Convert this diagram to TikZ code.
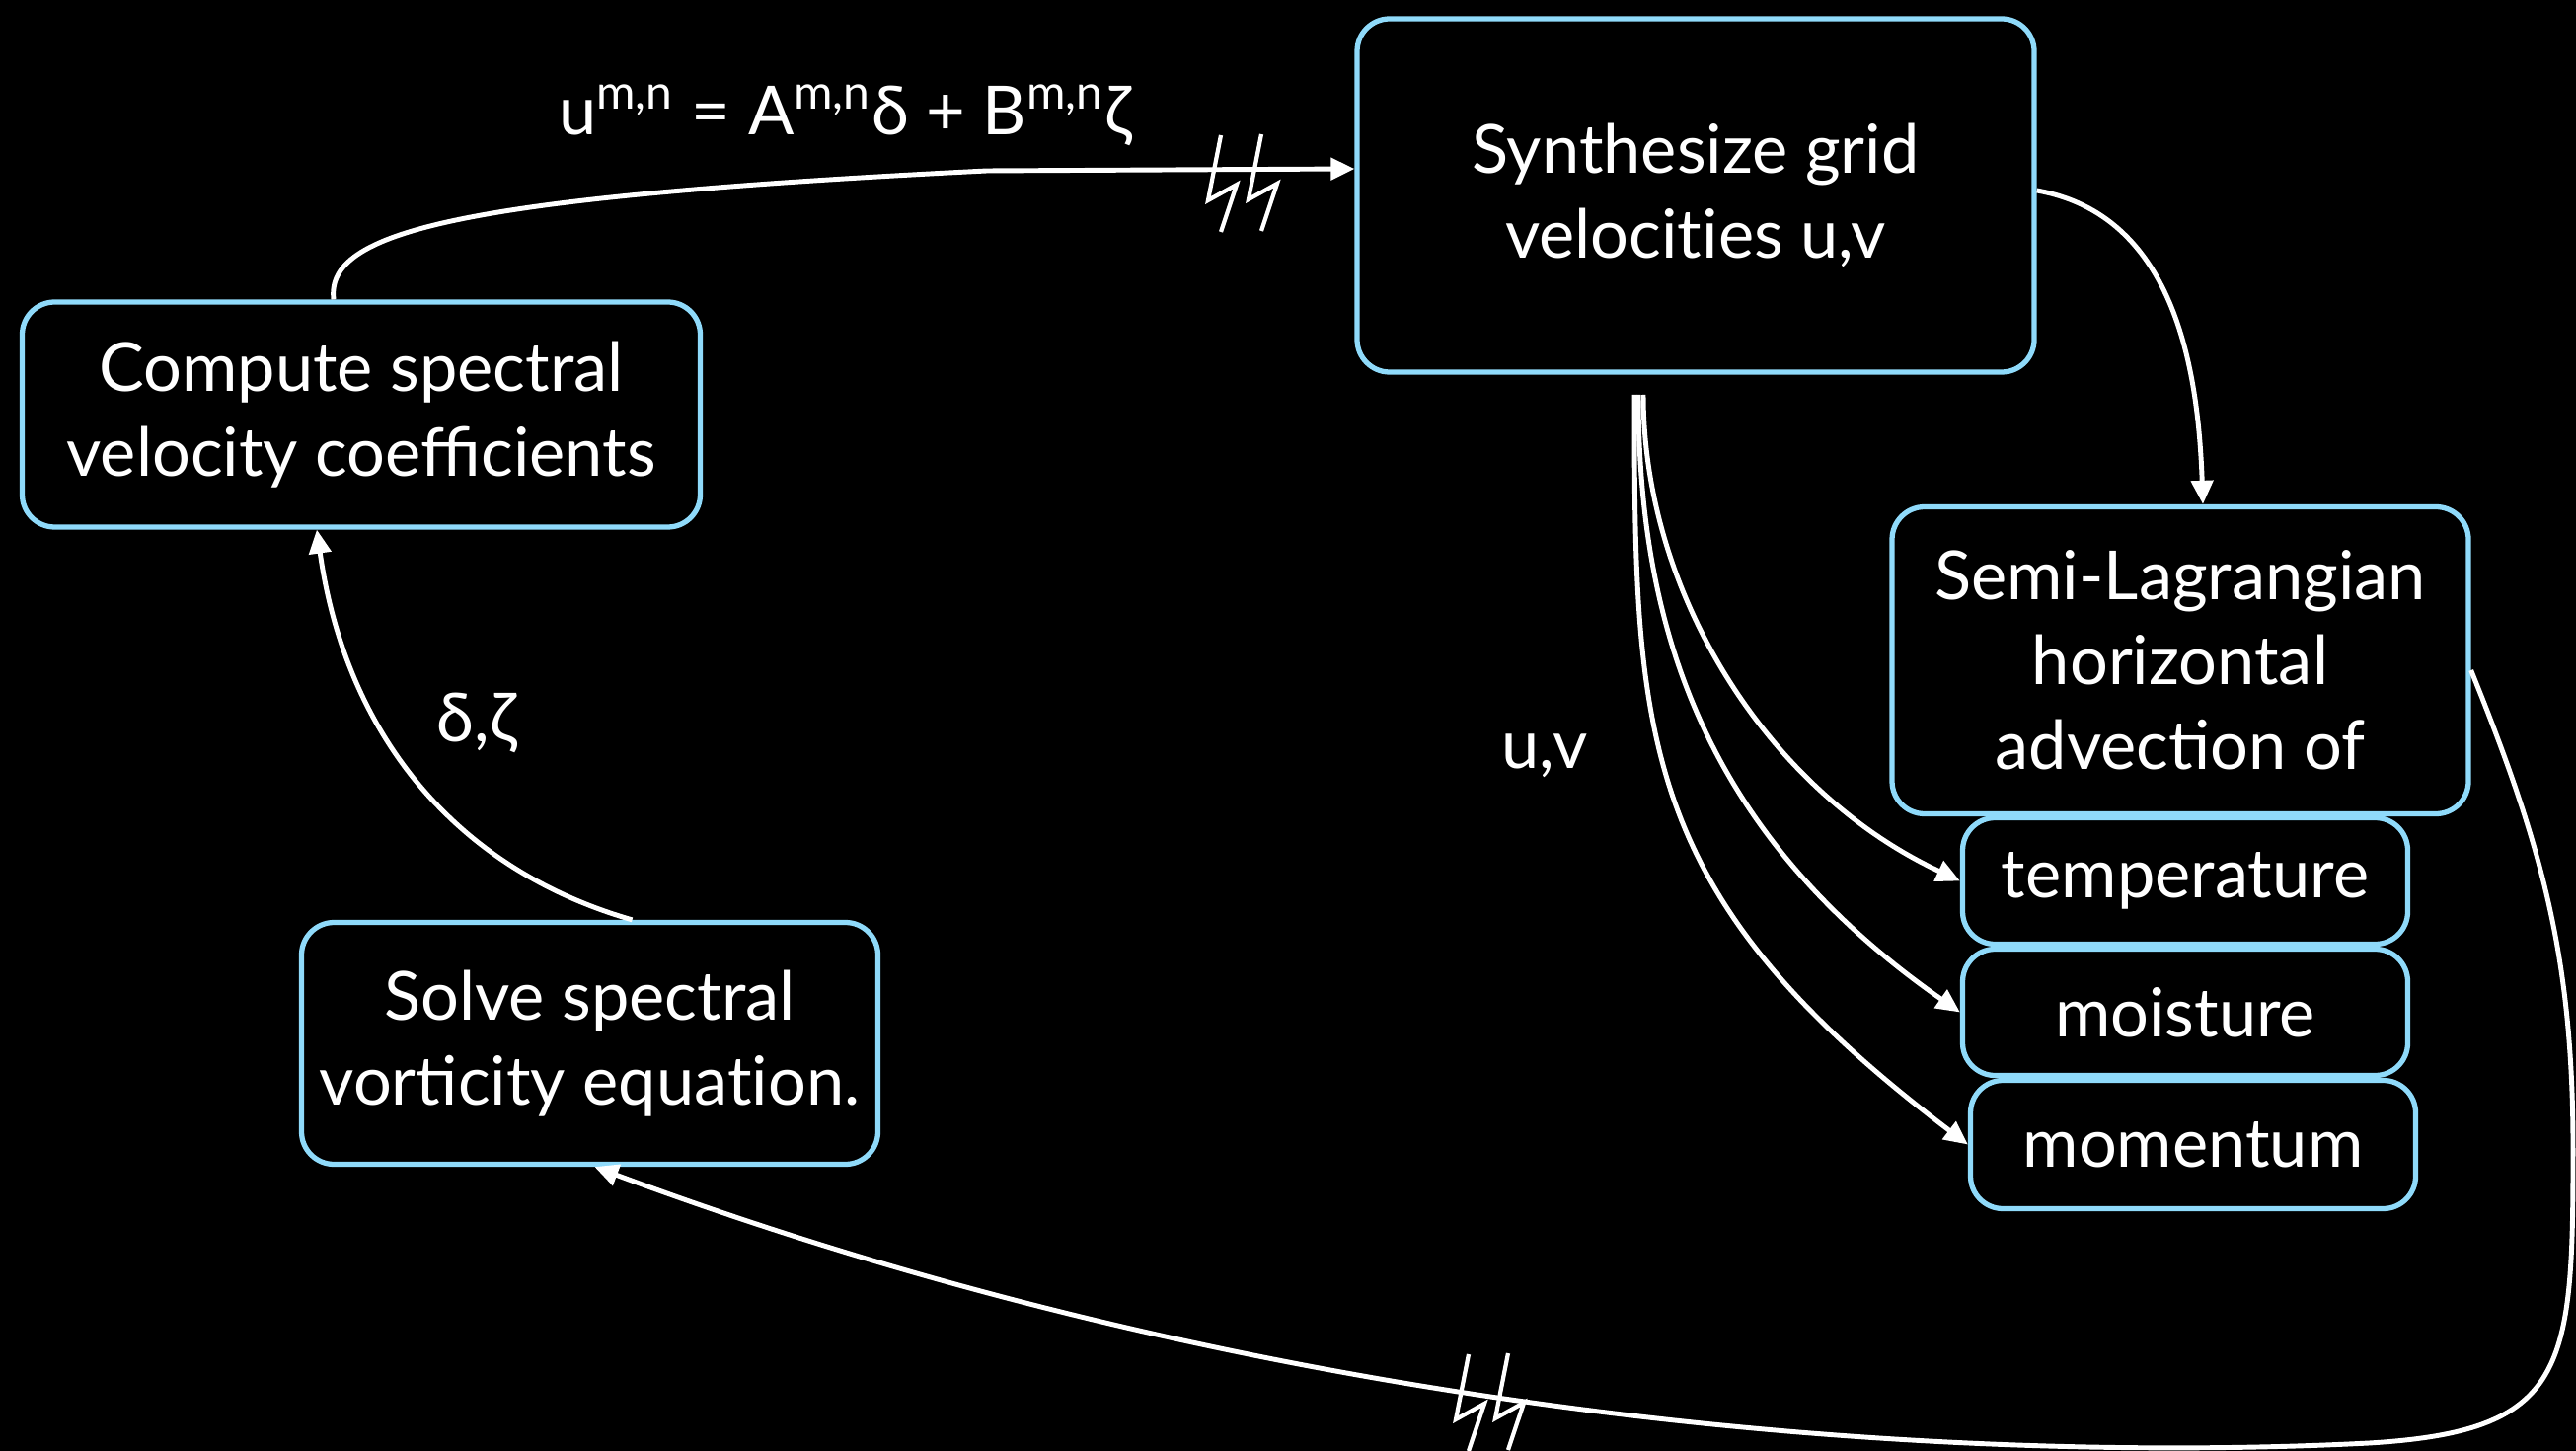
\documentclass[tikz,border=0pt]{standalone}
\usepackage{fontspec}
\setmainfont{Lato}
\usepackage{xcolor}
\usetikzlibrary{arrows.meta,positioning,calc}
\definecolor{boxblue}{RGB}{143,218,250}

\begin{document}
\begin{tikzpicture}[
      stepnode/.style={draw=boxblue,line width=1.5pt,rounded corners=0.33cm,text=white,align=center,inner sep=0pt,font=\fontsize{19.5}{24.5}\selectfont},
      lbl/.style={text=white,inner sep=0pt,font=\fontsize{19.5}{24.5}\selectfont},
      flow/.style={draw=white,line width=1.4pt,-{Triangle[length=0.24cm,width=0.22cm]}},
      brk/.style={draw=white,line width=1.2pt}]
    \useasboundingbox (0,0) rectangle (26.1,-14.7);
    \fill[black] (0,0) rectangle (26.1,-14.7);
    \node[stepnode,minimum width=6.86cm,minimum height=3.58cm] (synth) at (17.18,-1.98) {Synthesize grid\\velocit\kern0pt ies u,v};
    \node[stepnode,minimum width=6.87cm,minimum height=2.28cm] (compute) at (3.66,-4.20) {Compute spectral\\velocity coefficients};
    \node[stepnode,minimum width=5.84cm,minimum height=3.11cm] (semi) at (22.09,-6.69) {Semi-Lagrangian\\horizontal\\advection of};
    \node[stepnode,minimum width=4.51cm,minimum height=1.28cm] (temp) at (22.14,-8.925) {temperature};
    \node[stepnode,minimum width=4.51cm,minimum height=1.28cm] (moist) at (22.14,-10.255) {moisture};
    \node[stepnode,minimum width=4.51cm,minimum height=1.30cm] (moment) at (22.22,-11.595) {momentum};
    \node[stepnode,minimum width=5.84cm,minimum height=2.45cm] (solve) at (5.975,-10.57) {Solve spectral\\vorticity equat\kern0pt ion.};
    \node[lbl] (coeff) at (8.56,-1.17) {u\textsuperscript{m,n} = A\textsuperscript{m,n}δ + B\textsuperscript{m,n}ζ};
    \node[lbl] (dz) at (4.83,-7.32) {δ,ζ};
    \node[lbl] (uv) at (15.65,-7.66) {u,v};
    \coordinate (fan) at (16.6,-4.0);
    \draw[flow] ([xshift=-0.28cm]compute.north) .. controls (3.3,-2.35) and (4.6,-2.0) .. (10,-1.73) -- ([yshift=0.27cm]synth.west);
    \draw[flow] ([yshift=0.05cm]synth.east) to[out=-10,in=92] ([xshift=0.23cm]semi.north);
    \draw[flow] ([xshift=0.43cm]solve.north) .. controls +(164:1.95) and +(-82:2) .. ([xshift=-0.45cm]compute.south);
    \draw[flow] ([xshift=0.05cm]fan) .. controls (16.65,-6.0) and (17.9,-8.01) .. (temp.west);
    \draw[flow] (fan) .. controls (16.6,-6.4) and (17.3,-8.47) .. (moist.west);
    \draw[flow] ([xshift=-0.04cm]fan) .. controls (16.56,-7.5) and (16.6,-9.07) .. (moment.west);
    \draw[flow] ([yshift=-0.1cm]semi.east) to[out=-68,in=90] (26.07,-11.65)
      .. controls (26.07,-13.9) and (26.0,-14.5) .. (24.0,-14.62)
      .. controls (20.5,-14.8) and (13.5,-14.6) .. ([xshift=0.05cm]solve.south);
    \foreach \bx/\by in {12.37/-1.37, 12.78/-1.36, 14.88/-13.72, 15.28/-13.71} {
      \draw[brk] (\bx,\by) -- ++(-0.13,-0.66) -- ++(0.29,0.16) -- ++(-0.16,-0.48);
    }
  \end{tikzpicture}
\end{document}
